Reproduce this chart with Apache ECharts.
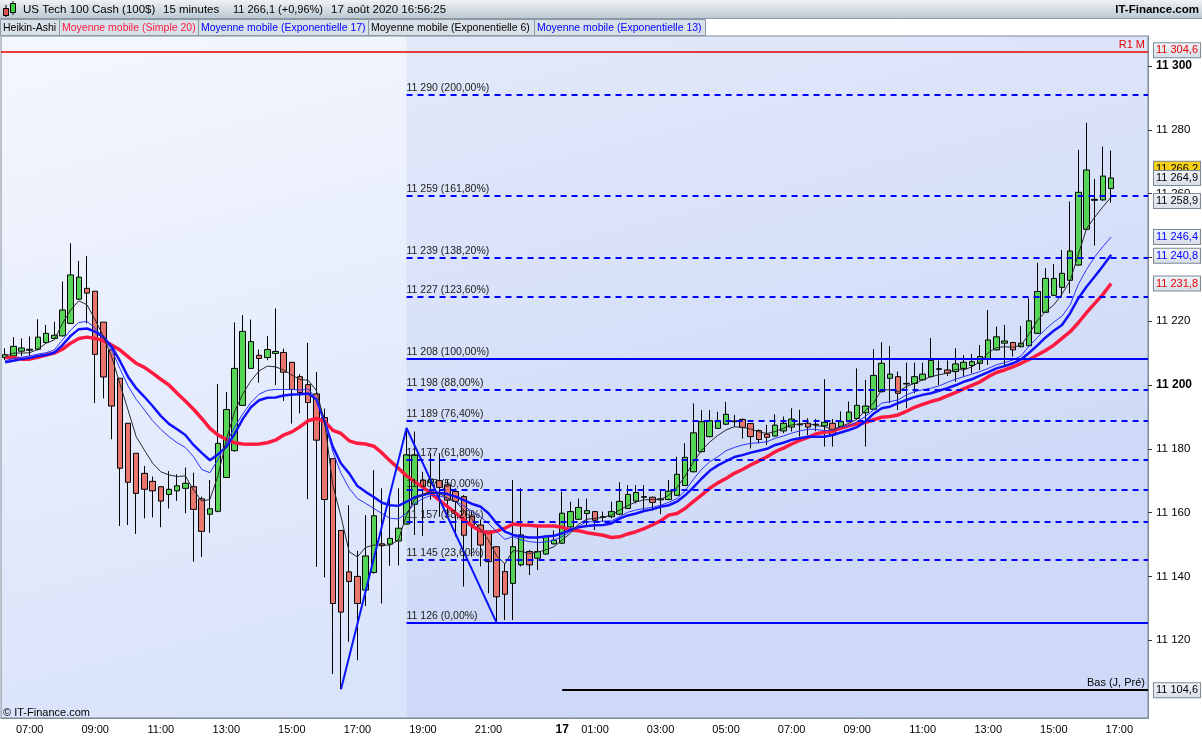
<!DOCTYPE html>
<html>
<head>
<meta charset="utf-8">
<script src="https://cdn.jsdelivr.net/npm/echarts@6/dist/echarts.min.js"></script>
<style>
  html, body { margin: 0; padding: 0; background: #fff; }
  #chart { width: 1202px; height: 740px; }
</style>
</head>
<body>
<div id="chart"></div>
<script>
// Heikin-Ashi candles, 15 min, Fri 14 Aug 06:15 -> Mon 17 Aug 16:45
const haOpen = [
  11208.6, 11209.1, 11210.6, 11210.9, 11211.2, 11213.3, 11214.6, 11215.4, 11219.3, 11226.9,
  11230.3, 11229.4, 11219.7, 11211.0, 11202.1, 11188.0, 11178.6, 11172.3, 11169.8, 11168.1,
  11165.7, 11166.8, 11167.6, 11168.1, 11164.3, 11159.5, 11160.4, 11171.0, 11179.4, 11193.6,
  11205.2, 11209.3, 11208.6, 11209.9, 11210.2, 11207.1, 11202.6, 11200.1, 11197.2, 11189.8,
  11176.9, 11154.4, 11141.4, 11140.0, 11135.7, 11141.2, 11150.2, 11150.1, 11151.1, 11156.4,
  11162.6, 11170.2, 11169.4, 11170.0, 11168.7, 11166.6, 11165.0, 11158.9, 11156.1, 11154.2,
  11149.3, 11141.5, 11137.8, 11143.6, 11147.8, 11145.7, 11147.0, 11150.2, 11150.4, 11155.5,
  11157.9, 11159.7, 11160.3, 11158.5, 11158.7, 11159.5, 11161.3, 11163.6, 11164.8, 11164.8,
  11164.0, 11164.1, 11165.4, 11168.5, 11172.8, 11179.1, 11183.8, 11186.4, 11187.7, 11188.5,
  11189.2, 11187.9, 11185.7, 11184.6, 11184.0, 11185.6, 11186.8, 11187.5, 11188.0, 11187.5,
  11187.2, 11188.0, 11187.0, 11188.5, 11189.5, 11191.3, 11192.4, 11197.9, 11202.1, 11202.6,
  11200.3, 11200.5, 11201.6, 11202.6, 11204.9, 11204.7, 11204.2, 11205.2, 11206.1, 11206.8,
  11208.3, 11211.0, 11213.1, 11213.3, 11212.0, 11212.3, 11216.2, 11222.8, 11228.1, 11230.6,
  11232.8, 11237.6, 11248.8, 11257.9, 11258.0, 11261.6
];
const haClose = [
  11209.5, 11212.1, 11211.6, 11211.2, 11215.0, 11216.2, 11215.6, 11223.5, 11234.5, 11233.8,
  11228.8, 11209.6, 11202.5, 11193.4, 11173.9, 11169.5, 11166.0, 11167.3, 11166.8, 11163.6,
  11167.3, 11168.4, 11169.2, 11161.0, 11154.1, 11161.2, 11181.7, 11192.3, 11205.2, 11216.8,
  11213.6, 11208.3, 11211.1, 11210.5, 11204.0, 11198.6, 11197.6, 11194.5, 11182.7, 11164.1,
  11131.5, 11128.8, 11138.4, 11131.5, 11146.4, 11159.0, 11149.6, 11151.9, 11155.1, 11178.1,
  11178.1, 11168.3, 11170.5, 11167.9, 11163.9, 11163.5, 11152.9, 11156.1, 11149.8, 11144.6,
  11133.6, 11134.4, 11149.3, 11153.0, 11143.6, 11147.8, 11152.5, 11151.4, 11159.8, 11160.3,
  11161.6, 11160.6, 11157.6, 11158.7, 11160.3, 11163.5, 11165.7, 11166.3, 11165.0, 11163.2,
  11164.3, 11166.7, 11172.0, 11177.3, 11185.0, 11188.5, 11188.8, 11188.8, 11190.8, 11188.7,
  11186.7, 11183.8, 11182.9, 11183.6, 11187.4, 11188.0, 11189.3, 11187.7, 11186.8, 11187.7,
  11188.3, 11184.3, 11188.5, 11191.5, 11193.6, 11193.4, 11203.0, 11206.8, 11203.4, 11197.4,
  11200.5, 11202.6, 11203.4, 11207.7, 11205.1, 11203.7, 11206.6, 11207.1, 11207.3, 11208.9,
  11214.1, 11215.1, 11213.8, 11211.0, 11213.1, 11220.1, 11229.3, 11233.4, 11233.4, 11235.0,
  11242.0, 11260.4, 11267.4, 11258.2, 11265.5, 11264.9
];
const haLow = [
  11207.8, 11208.9, 11209.1, 11208.9, 11210.8, 11213.1, 11214.1, 11215.2, 11219.1, 11226.7,
  11219.3, 11194.3, 11195.8, 11183.0, 11155.8, 11156.1, 11153.3, 11158.2, 11158.5, 11155.4,
  11161.3, 11163.7, 11159.8, 11144.6, 11146.1, 11153.7, 11160.1, 11170.8, 11179.1, 11193.4,
  11205.0, 11200.7, 11207.8, 11200.0, 11195.0, 11187.9, 11191.1, 11164.2, 11143.0, 11139.7,
  11109.4, 11104.6, 11119.5, 11113.7, 11130.7, 11140.9, 11131.5, 11143.3, 11143.4, 11156.2,
  11153.0, 11152.7, 11164.0, 11158.7, 11159.2, 11152.5, 11136.8, 11146.2, 11143.1, 11134.7,
  11125.4, 11126.3, 11126.3, 11143.1, 11140.4, 11142.0, 11146.8, 11150.0, 11150.2, 11155.3,
  11157.7, 11156.1, 11154.5, 11157.1, 11158.2, 11159.2, 11161.1, 11162.9, 11160.8, 11160.6,
  11159.5, 11163.9, 11165.2, 11168.3, 11172.6, 11178.9, 11183.6, 11186.2, 11187.5, 11186.9,
  11183.2, 11180.1, 11181.7, 11181.2, 11183.8, 11184.9, 11185.4, 11183.8, 11184.3, 11185.5,
  11180.7, 11180.7, 11186.5, 11188.3, 11189.3, 11180.7, 11192.2, 11197.7, 11194.3, 11192.2,
  11192.7, 11197.4, 11201.4, 11202.4, 11200.0, 11202.8, 11201.0, 11202.6, 11203.7, 11204.7,
  11206.3, 11210.8, 11205.7, 11208.9, 11211.8, 11212.1, 11216.0, 11222.6, 11227.9, 11227.7,
  11228.7, 11237.4, 11248.6, 11243.7, 11257.8, 11257.2
];
const haHigh = [
  11211.5, 11215.0, 11214.6, 11215.2, 11220.6, 11218.8, 11219.8, 11232.4, 11244.4, 11238.9,
  11240.4, 11229.4, 11219.7, 11211.0, 11202.1, 11188.0, 11178.6, 11174.6, 11171.3, 11168.1,
  11173.0, 11172.0, 11174.1, 11172.5, 11165.0, 11170.2, 11200.3, 11197.8, 11219.6, 11221.9,
  11220.5, 11211.1, 11215.3, 11224.0, 11211.4, 11207.1, 11203.4, 11213.2, 11204.1, 11192.6,
  11176.9, 11154.4, 11162.3, 11148.0, 11159.2, 11173.3, 11167.6, 11165.0, 11167.6, 11186.5,
  11185.4, 11172.8, 11178.6, 11178.6, 11170.3, 11167.6, 11165.5, 11160.3, 11157.7, 11154.2,
  11149.3, 11144.1, 11170.2, 11167.6, 11148.3, 11155.6, 11153.0, 11154.4, 11166.6, 11163.4,
  11164.4, 11164.4, 11160.5, 11160.3, 11163.4, 11169.5, 11168.6, 11168.6, 11168.6, 11165.0,
  11167.0, 11170.2, 11177.5, 11181.7, 11194.2, 11192.1, 11192.1, 11191.6, 11194.7, 11190.6,
  11189.5, 11188.1, 11186.1, 11187.5, 11190.8, 11190.1, 11192.7, 11192.2, 11189.6, 11189.3,
  11201.8, 11189.3, 11191.7, 11194.8, 11205.2, 11201.6, 11211.2, 11213.4, 11212.2, 11204.2,
  11207.0, 11207.0, 11207.0, 11214.7, 11207.7, 11207.7, 11211.5, 11209.4, 11209.7, 11212.5,
  11223.5, 11218.3, 11218.8, 11213.5, 11218.5, 11227.2, 11238.3, 11236.6, 11237.9, 11242.3,
  11257.5, 11273.7, 11282.2, 11264.6, 11274.7, 11273.5
];

// moving averages
const sma20 = [
  11208.6, 11208.6, 11208.1, 11208.1, 11208.7, 11209.4, 11210.0, 11211.2, 11213.1, 11214.6,
  11215.0, 11214.6, 11213.9, 11212.5, 11211.0, 11208.9, 11206.8, 11205.5, 11203.7, 11201.8,
  11200.0, 11197.4, 11195.0, 11192.4, 11189.5, 11186.4, 11184.3, 11182.9, 11181.9, 11181.5,
  11181.4, 11181.5, 11181.9, 11182.7, 11184.3, 11185.3, 11186.9, 11188.8, 11189.5, 11188.5,
  11185.8, 11184.8, 11182.5, 11181.7, 11181.5, 11180.8, 11178.7, 11176.2, 11173.9, 11171.5,
  11169.7, 11167.9, 11166.0, 11163.9, 11161.9, 11159.8, 11157.7, 11155.8, 11154.2, 11153.7,
  11154.2, 11155.1, 11156.4, 11156.1, 11156.0, 11155.8, 11155.8, 11155.8, 11155.4, 11154.5,
  11154.3, 11153.7, 11153.3, 11152.9, 11152.2, 11152.4, 11153.3, 11154.0, 11155.0, 11156.1,
  11157.4, 11159.2, 11159.7, 11161.3, 11163.4, 11165.5, 11167.6, 11169.3, 11170.7, 11172.3,
  11173.5, 11174.9, 11176.2, 11177.5, 11179.1, 11180.2, 11181.5, 11182.6, 11183.6, 11184.7,
  11185.2, 11185.6, 11186.4, 11187.2, 11187.8, 11188.2, 11189.1, 11189.9, 11190.1, 11190.6,
  11191.7, 11193.0, 11193.9, 11194.8, 11195.5, 11196.6, 11197.6, 11198.8, 11199.9, 11201.0,
  11202.6, 11203.9, 11204.7, 11205.7, 11206.8, 11208.0, 11209.4, 11210.8, 11212.5, 11214.6,
  11216.7, 11219.5, 11222.7, 11225.6, 11228.4, 11231.8
];
const ema17 = [
  11207.1, 11207.6, 11208.1, 11208.5, 11209.1, 11209.4, 11210.1, 11212.5, 11215.4, 11217.5,
  11217.7, 11216.7, 11215.0, 11212.0, 11207.6, 11202.6, 11199.0, 11196.3, 11193.4, 11190.3,
  11187.8, 11186.1, 11184.3, 11181.2, 11178.7, 11176.4, 11178.3, 11180.6, 11184.6, 11189.3,
  11193.0, 11195.2, 11196.0, 11196.1, 11196.7, 11197.0, 11197.1, 11197.3, 11195.5, 11188.5,
  11180.6, 11175.4, 11172.3, 11168.3, 11166.5, 11164.9, 11163.1, 11162.3, 11162.1, 11163.4,
  11164.8, 11165.5, 11166.2, 11166.2, 11165.8, 11165.0, 11163.9, 11162.7, 11161.9, 11159.8,
  11156.6, 11154.0, 11153.0, 11152.5, 11152.2, 11152.2, 11152.5, 11152.7, 11153.5, 11154.6,
  11155.4, 11155.8, 11156.0, 11156.1, 11156.6, 11158.1, 11159.1, 11159.7, 11160.5, 11161.0,
  11161.8, 11162.3, 11163.4, 11165.4, 11167.9, 11170.6, 11173.1, 11174.8, 11176.1, 11177.4,
  11178.0, 11178.8, 11179.4, 11180.0, 11181.2, 11181.9, 11182.8, 11183.3, 11183.8, 11183.8,
  11183.8, 11184.3, 11185.1, 11185.9, 11186.8, 11188.5, 11191.0, 11192.7, 11193.2, 11194.3,
  11195.3, 11196.2, 11196.9, 11197.4, 11198.2, 11199.0, 11199.9, 11201.0, 11201.8, 11202.9,
  11204.0, 11205.2, 11205.9, 11206.8, 11208.0, 11210.1, 11212.4, 11214.9, 11217.0, 11218.8,
  11222.5, 11227.2, 11230.8, 11234.0, 11237.3, 11240.8
];
const ema13 = [
  11207.6, 11208.3, 11208.7, 11209.1, 11209.7, 11210.1, 11211.0, 11214.1, 11217.2, 11219.6,
  11219.9, 11217.8, 11214.9, 11211.0, 11205.2, 11199.7, 11195.5, 11192.2, 11188.8, 11186.1,
  11183.8, 11181.9, 11180.4, 11177.5, 11173.5, 11172.5, 11176.7, 11181.7, 11186.7, 11190.9,
  11194.5, 11197.1, 11198.3, 11198.6, 11198.6, 11198.6, 11198.4, 11198.8, 11195.5, 11189.2,
  11179.1, 11172.3, 11167.6, 11164.4, 11162.9, 11161.3, 11159.7, 11158.2, 11158.0, 11159.8,
  11162.9, 11164.4, 11165.4, 11165.2, 11164.5, 11163.4, 11162.1, 11160.3, 11158.7, 11156.6,
  11154.0, 11151.6, 11152.5, 11151.4, 11150.9, 11150.6, 11150.8, 11151.4, 11152.5, 11154.0,
  11155.8, 11157.1, 11157.1, 11157.3, 11157.4, 11158.7, 11160.1, 11160.8, 11161.3, 11161.6,
  11162.3, 11163.2, 11164.4, 11166.8, 11170.4, 11173.5, 11175.9, 11177.5, 11179.4, 11180.4,
  11181.2, 11181.7, 11181.9, 11182.2, 11183.3, 11184.0, 11184.9, 11185.6, 11186.1, 11186.1,
  11185.6, 11185.9, 11186.8, 11187.2, 11188.5, 11190.1, 11192.2, 11194.3, 11194.8, 11195.3,
  11196.9, 11197.9, 11198.5, 11199.0, 11199.7, 11200.8, 11201.8, 11202.6, 11203.4, 11204.2,
  11205.2, 11206.3, 11207.0, 11207.8, 11209.1, 11212.2, 11214.9, 11217.5, 11219.7, 11221.6,
  11225.1, 11231.6, 11236.2, 11240.2, 11243.4, 11246.4
];
const ema6 = [
  11208.9, 11210.0, 11210.0, 11210.1, 11211.2, 11213.1, 11214.1, 11219.3, 11223.5, 11226.4,
  11225.1, 11220.4, 11215.2, 11208.9, 11200.5, 11192.2, 11183.8, 11179.6, 11175.5, 11172.8,
  11171.8, 11171.3, 11171.5, 11167.1, 11163.6, 11164.1, 11171.7, 11182.7, 11191.6, 11197.1,
  11201.3, 11204.4, 11205.9, 11205.7, 11204.7, 11203.1, 11201.7, 11201.5, 11198.2, 11188.5,
  11168.6, 11158.7, 11147.7, 11146.1, 11149.1, 11149.8, 11149.8, 11149.8, 11151.4, 11159.2,
  11164.2, 11165.8, 11166.5, 11166.0, 11164.5, 11163.4, 11160.8, 11157.9, 11154.8, 11151.4,
  11146.4, 11143.9, 11148.1, 11147.8, 11147.2, 11147.6, 11148.3, 11149.3, 11151.4, 11153.5,
  11156.4, 11157.9, 11158.2, 11158.5, 11159.2, 11160.8, 11162.2, 11163.3, 11164.0, 11164.1,
  11164.1, 11165.4, 11167.8, 11171.5, 11175.7, 11179.5, 11182.1, 11184.2, 11185.9, 11186.9,
  11186.7, 11186.2, 11185.3, 11184.8, 11185.4, 11186.4, 11187.5, 11187.8, 11188.0, 11187.2,
  11187.0, 11185.9, 11187.0, 11188.0, 11189.3, 11192.0, 11194.3, 11198.5, 11198.5, 11197.9,
  11199.5, 11200.5, 11201.6, 11202.6, 11203.2, 11203.7, 11204.9, 11204.7, 11205.7, 11207.3,
  11210.1, 11211.7, 11212.0, 11211.8, 11212.5, 11216.0, 11220.2, 11223.0, 11225.1, 11228.5,
  11232.7, 11241.0, 11249.0, 11252.6, 11255.9, 11258.9
];

// zigzag swing points (candle index, price)
const zigIdx = [41, 49, 60];
const zigVal = [11104.6, 11186.5, 11125.4];

// Fibonacci levels drawn from candle 50 to the right edge
const fibStart = 49;
const fibPrices = [11125.6, 11145.1, 11157.2, 11167.0, 11176.7, 11188.8, 11198.4, 11208.3, 11227.8, 11239.9, 11259.4, 11291.0];
const fibLabels = ['11 126 (0,00%)', '11 145 (23,60%)', '11 157 (38,20%)', '11 167 (50,00%)', '11 177 (61,80%)',
  '11 189 (76,40%)', '11 198 (88,00%)', '11 208 (100,00%)', '11 227 (123,60%)', '11 239 (138,20%)',
  '11 259 (161,80%)', '11 290 (200,00%)'];
const fibSolid = ['11 126 (0,00%)', '11 208 (100,00%)'];

const pivotR1 = 11304.6;
const prevLow = 11104.6;
const prevLowStart = 68;
const lastPrice = 11266.2;

const yMin = 11095.6, yMax = 11309.4;
const yTicks = [11120, 11140, 11160, 11180, 11200, 11220, 11240, 11260, 11280, 11300];

// time axis: Friday session then Monday session (plus 4 empty slots)
const sessions = [['14', 6 * 60 + 15, 68], ['17', 0, 72]];
const cats = [];
sessions.forEach(([d, start, n]) => {
  for (let k = 0; k < n; k++) {
    const t = start + k * 15;
    const hh = String(Math.floor(t / 60)).padStart(2, '0');
    const mm = String(t % 60).padStart(2, '0');
    cats.push(d + ' ' + hh + ':' + mm);
  }
});

const FONT = '"Liberation Sans", Arial, sans-serif';

function fmt(v) {
  const s = v.toFixed(1).split('.');
  return s[0].slice(0, 2) + ' ' + s[0].slice(2) + ',' + s[1];
}
function showTime(i, v) {
  const h = +v.slice(3, 5), m = +v.slice(6, 8);
  if (m !== 0) return false;
  if (h === 0) return true;
  return h % 2 === 1 && h <= 21;
}

const candleData = haOpen.map((o, i) => [o, haClose[i], haLow[i], haHigh[i]]);

const boxBg = new echarts.graphic.LinearGradient(0, 0, 0, 1, [
  { offset: 0, color: '#f1f4f8' }, { offset: 1, color: '#d6dee7' }]);
function boxLine(v, color, dy, bg) {
  const label = {
    show: true, position: 'end', distance: 6, fontFamily: FONT, fontSize: 11,
    formatter: fmt(v), color: color, offset: [0, dy || 0],
    backgroundColor: bg || boxBg, borderColor: '#7d8a97', borderWidth: 1, padding: [2, 2, 1, 2]
  };
  return [{ xAxis: -0.5, yAxis: v, lineStyle: { width: 1, color: 'rgba(0,0,0,0)' }, label: label },
          { xAxis: cats.length - 0.5, yAxis: v }];
}

const fibLines = fibPrices.map((p, i) => [
  {
    xAxis: fibStart, yAxis: p,
    lineStyle: { color: '#0000ff', width: 2, type: fibSolid.includes(fibLabels[i]) ? 'solid' : [6, 5] },
    label: { show: true, position: 'insideStartTop', distance: [0, 1], formatter: fibLabels[i],
      color: '#1a1a1a', fontSize: 10.5, fontFamily: FONT }
  },
  { xAxis: cats.length - 0.5, yAxis: p }
]);

const chart = echarts.init(document.getElementById('chart'));

const legendItems = [
  { t: 'Heikin-Ashi', c: '#000000', x: 0, w: 59 },
  { t: 'Moyenne mobile (Simple 20)', c: '#ff1a40', x: 59, w: 139 },
  { t: 'Moyenne mobile (Exponentielle 17)', c: '#0000ff', x: 198, w: 170 },
  { t: 'Moyenne mobile (Exponentielle 6)', c: '#000000', x: 368, w: 166 },
  { t: 'Moyenne mobile (Exponentielle 13)', c: '#0000ff', x: 534, w: 171 }
];
const graphics = [
  { type: 'rect', shape: { x: 0, y: 0, width: 1202, height: 18 },
    style: { fill: new echarts.graphic.LinearGradient(0, 0, 0, 1, [
      { offset: 0, color: '#eef2f5' }, { offset: 1, color: '#bccad4' }]) } },
  { type: 'line', shape: { x1: 0, y1: 18.5, x2: 1202, y2: 18.5 }, style: { stroke: '#8c99a5' } },
  { type: 'line', shape: { x1: 6, y1: 5, x2: 6, y2: 17 }, style: { stroke: '#000' } },
  { type: 'rect', shape: { x: 3.5, y: 8.5, width: 5, height: 7 }, style: { fill: '#e05050', stroke: '#000' } },
  { type: 'line', shape: { x1: 13, y1: 1, x2: 13, y2: 15 }, style: { stroke: '#000' } },
  { type: 'rect', shape: { x: 10.5, y: 3.5, width: 5, height: 9 }, style: { fill: '#3fd03f', stroke: '#000' } },
  { type: 'text', x: 23, y: 9.5, style: { text: 'US Tech 100 Cash (100$)', font: '11.5px ' + FONT, fill: '#000', verticalAlign: 'middle' } },
  { type: 'text', x: 163, y: 9.5, style: { text: '15 minutes', font: '11.5px ' + FONT, fill: '#000', verticalAlign: 'middle' } },
  { type: 'text', x: 233, y: 9.5, style: { text: '11 266,1 (+0,96%)', font: '11px ' + FONT, fill: '#000', verticalAlign: 'middle' } },
  { type: 'text', x: 331, y: 9.5, style: { text: '17 août 2020 16:56:25', font: '11.5px ' + FONT, fill: '#000', verticalAlign: 'middle' } },
  { type: 'text', x: 1199, y: 9.5, style: { text: 'IT-Finance.com', font: 'bold 11.5px ' + FONT, fill: '#000', align: 'right', verticalAlign: 'middle' } },
  { type: 'text', x: 3, y: 713, z: 10, style: { text: '© IT-Finance.com', font: '11px ' + FONT, fill: '#000', verticalAlign: 'middle' } }
];
legendItems.forEach(it => {
  graphics.push({ type: 'rect', shape: { x: it.x + 0.5, y: 19.5, width: it.w, height: 16 },
    style: { fill: '#d9e1e8', stroke: '#8c99a5' } });
  graphics.push({ type: 'text', x: it.x + 3, y: 28, style: { text: it.t, font: '10.5px ' + FONT, fill: it.c, verticalAlign: 'middle' } });
});

const option = {
  animation: false,
  backgroundColor: '#ffffff',
  textStyle: { fontFamily: FONT },
  graphic: graphics,
  grid: {
    left: 1, right: 54, top: 36, bottom: 22, show: true,
    backgroundColor: new echarts.graphic.LinearGradient(0, 0, 0.15, 1, [
      { offset: 0, color: '#f4f7fe' }, { offset: 1, color: '#d9e3fa' }]),
    borderColor: '#7d8a97', borderWidth: 1
  },
  xAxis: [
    {
      type: 'category', data: cats, boundaryGap: true,
      axisLine: { lineStyle: { color: '#7d8a97' } },
      axisTick: { interval: showTime, alignWithLabel: true, length: 4, lineStyle: { color: '#555' } },
      axisLabel: {
        interval: showTime, color: '#000', fontSize: 11, margin: 6,
        formatter: v => v.slice(3) === '00:00' ? '{b|' + v.slice(0, 2) + '}' : v.slice(3),
        rich: { b: { fontWeight: 'bold', fontSize: 12, color: '#000' } }
      },
      splitLine: { show: false }
    },
    { type: 'value', min: -0.5, max: cats.length - 0.5, show: false }
  ],
  yAxis: {
    type: 'value', position: 'right', min: yMin, max: yMax,
    axisLine: { show: true, onZero: false, lineStyle: { color: '#7d8a97' } },
    axisTick: { show: true, length: 4, customValues: yTicks, lineStyle: { color: '#333' } },
    axisLabel: {
      customValues: yTicks, margin: 8, color: '#000', fontSize: 11.5,
      formatter: v => {
        const s = '11 ' + String(Math.round(v)).slice(2);
        return v % 100 === 0 ? '{b|' + s + '}' : s;
      },
      rich: { b: { fontWeight: 'bold', fontSize: 12, color: '#000' } }
    },
    splitLine: { show: false }
  },
  series: [
    {
      name: 'fibo', type: 'line', xAxisIndex: 1, data: [], z: 1, silent: true,
      markArea: {
        silent: true, itemStyle: { color: 'rgba(110,140,230,0.10)' },
        data: [[{ xAxis: fibStart, yAxis: yMin }, { xAxis: cats.length - 0.5, yAxis: yMax }]]
      },
      markLine: {
        silent: true, symbol: 'none', animation: false,
        data: fibLines.concat([
          [{ xAxis: -0.5, yAxis: pivotR1, lineStyle: { color: '#e60000', width: 1.5, type: 'solid' },
             label: { show: true, position: 'insideEndTop', formatter: 'R1 M', color: '#e60000', fontSize: 11, distance: [3, 1] } },
           { xAxis: cats.length - 0.5, yAxis: pivotR1 }],
          [{ xAxis: prevLowStart, yAxis: prevLow, lineStyle: { color: '#000', width: 2, type: 'solid' },
             label: { show: true, position: 'insideEndTop', formatter: 'Bas (J, Pré)', color: '#000', fontSize: 11, distance: [3, 1] } },
           { xAxis: cats.length - 0.5, yAxis: prevLow }]
        ])
      }
    },
    {
      name: 'boxes', type: 'line', xAxisIndex: 1, data: [], z: 6, silent: true,
      markLine: {
        silent: true, symbol: 'none', animation: false,
        data: [
          boxLine(pivotR1, '#e60000', -1),
          boxLine(lastPrice, '#000', -5, '#f5cf1a'),
          boxLine(haClose[haClose.length - 1], '#000', 0),
          boxLine(ema6[ema6.length - 1], '#000', 4),
          boxLine(ema13[ema13.length - 1], '#0000ff', 0),
          boxLine(ema17[ema17.length - 1], '#0000ff', 1),
          boxLine(sma20[sma20.length - 1], '#e60000', 0),
          boxLine(prevLow, '#000', 1)
        ]
      }
    },
    {
      name: 'Heikin-Ashi', type: 'candlestick', data: candleData, barWidth: 6, z: 2,
      itemStyle: { color: '#55d455', color0: '#e9756f', borderColor: '#000', borderColor0: '#000', borderWidth: 1 }
    },
    { name: 'SMA20', type: 'line', data: sma20, symbol: 'none', z: 3, silent: true,
      lineStyle: { color: '#ff1a40', width: 3.5 } },
    { name: 'EMA17', type: 'line', data: ema17, symbol: 'none', z: 3, silent: true,
      lineStyle: { color: '#1010ff', width: 2.5 } },
    { name: 'EMA13', type: 'line', data: ema13, symbol: 'none', z: 3, silent: true,
      lineStyle: { color: '#2a36ff', width: 1 } },
    { name: 'EMA6', type: 'line', data: ema6, symbol: 'none', z: 3, silent: true,
      lineStyle: { color: '#2a2a2a', width: 1 } },
    { name: 'ZigZag', type: 'line', xAxisIndex: 1, data: zigIdx.map((x, i) => [x, zigVal[i]]),
      symbol: 'none', z: 4, silent: true, lineStyle: { color: '#0a14ff', width: 2 } }
  ]
};
chart.setOption(option);
</script>
</body>
</html>
